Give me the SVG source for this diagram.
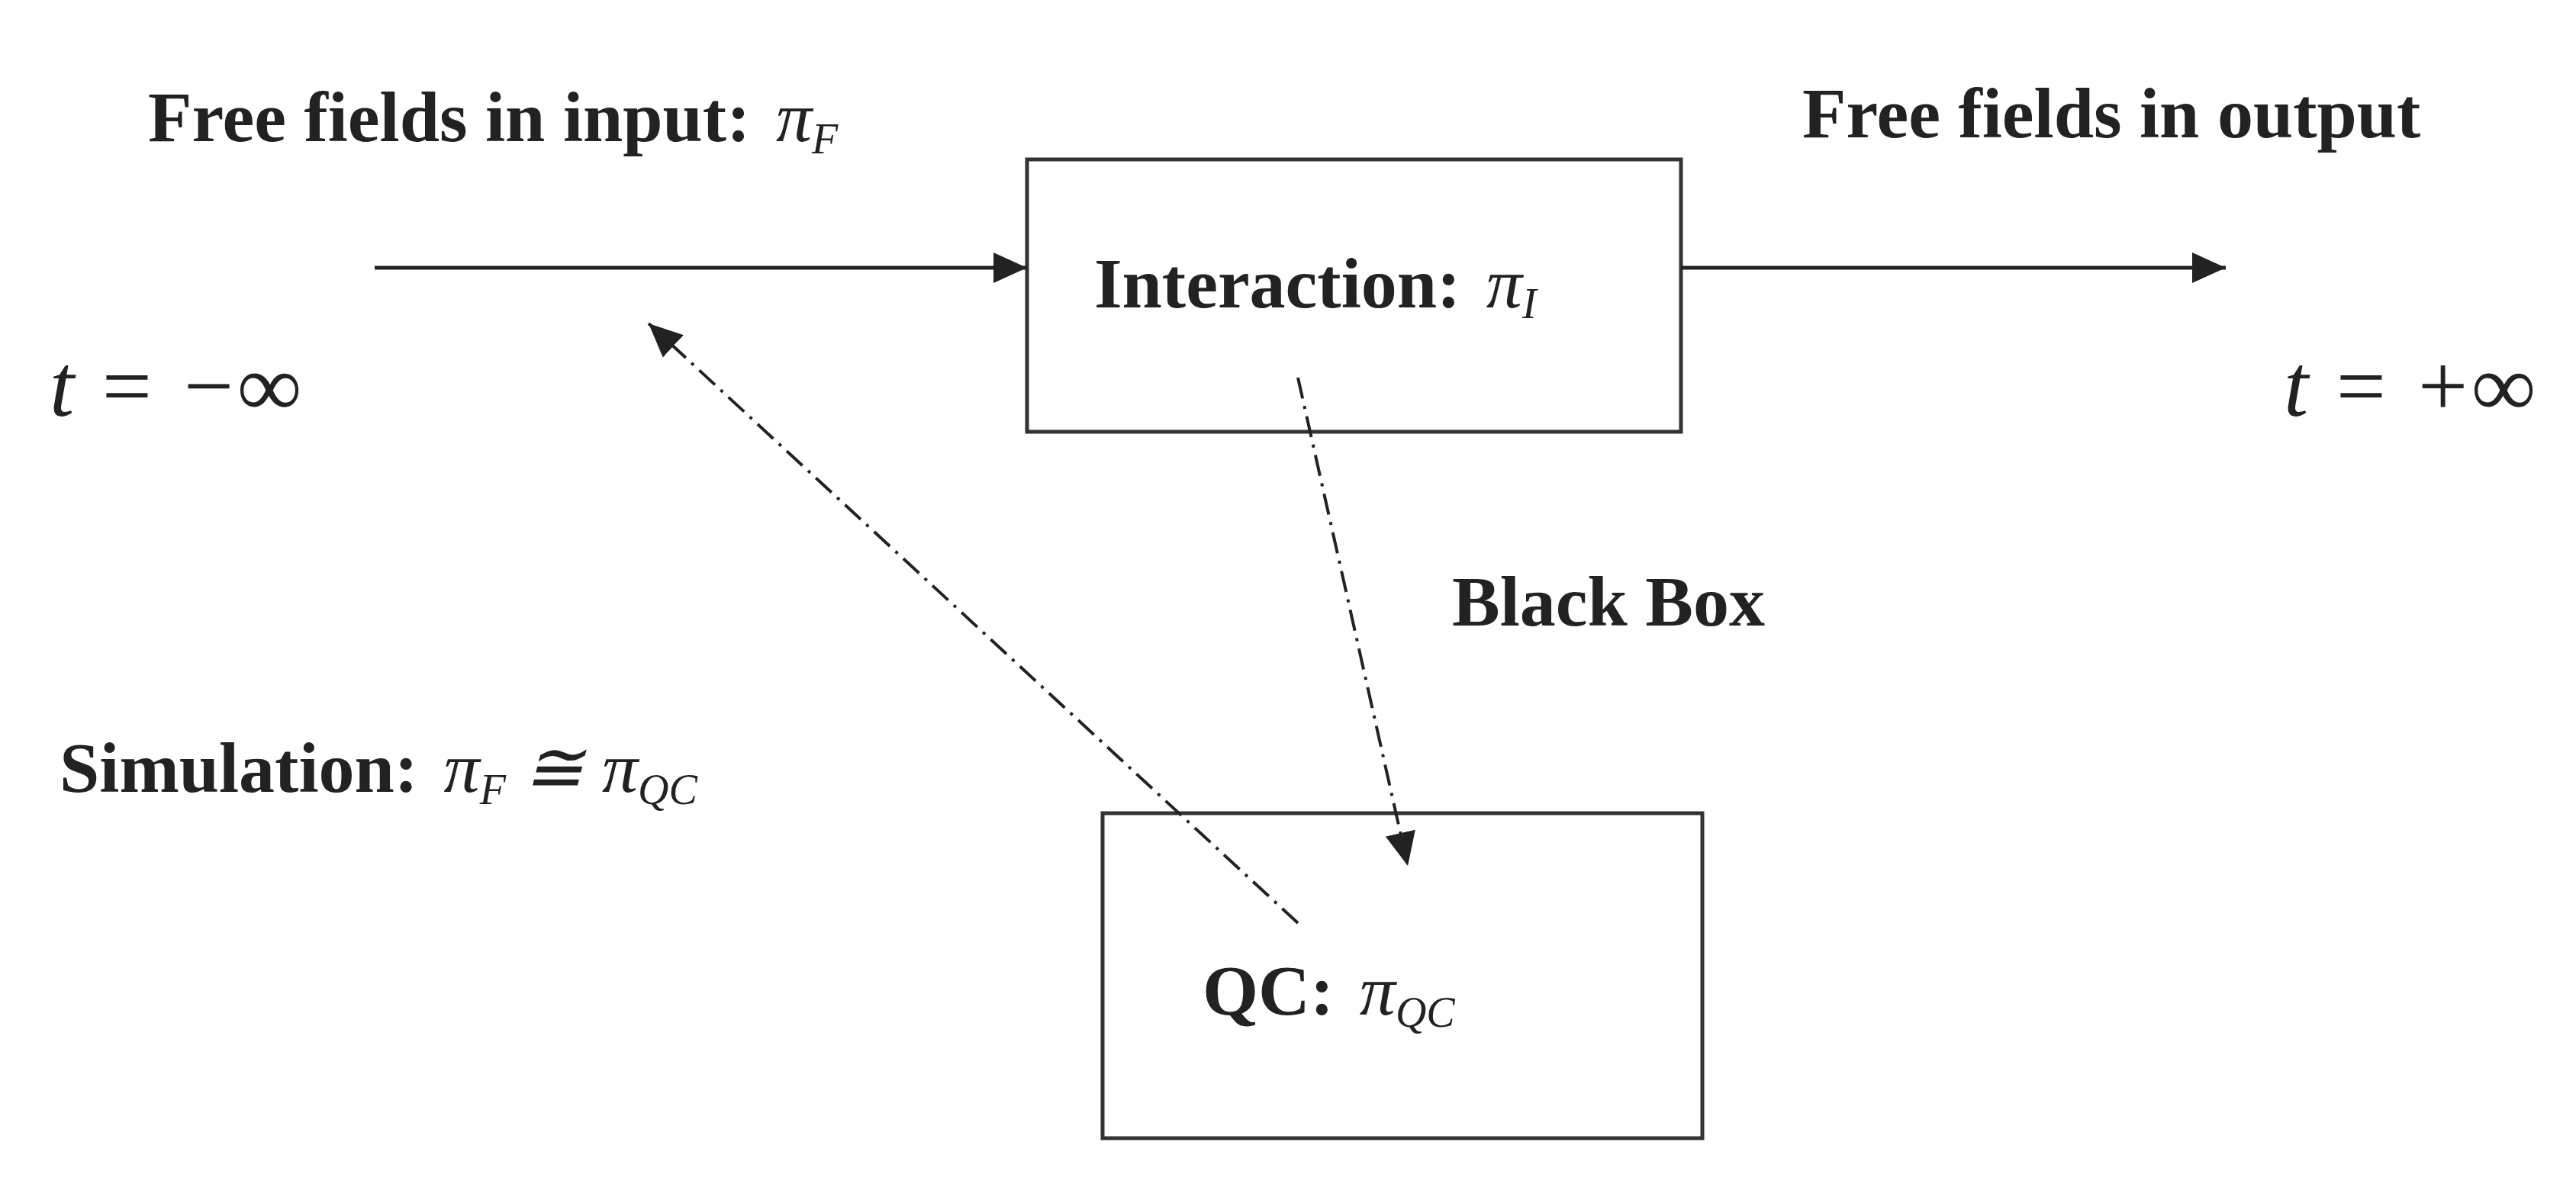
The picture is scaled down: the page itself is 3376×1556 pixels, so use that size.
<svg xmlns="http://www.w3.org/2000/svg" width="3376" height="1556" viewBox="0 0 3376 1556">
<style>
.lb{font-family:"Liberation Serif",serif;font-weight:bold;font-size:94px;fill:#222}
.m{font-family:"Liberation Serif",serif;font-style:italic;font-weight:normal}
.s{font-size:56px}
.t{font-family:"Liberation Serif",serif;font-style:italic;font-size:116px;fill:#222}
.box{fill:none;stroke:#333;stroke-width:5}
.ln{stroke:#222;stroke-width:5;fill:none}
.dd{stroke:#222;stroke-width:4;fill:none;stroke-dasharray:28 10 4 10}
.ah{fill:#222}
</style>
<defs>
<marker id="ah" markerWidth="44" markerHeight="40" refX="44" refY="20" orient="auto" markerUnits="userSpaceOnUse" viewBox="0 0 44 40">
<path class="ah" d="M0,0 L44,20 L0,40 z"/>
</marker>
</defs>
<rect width="3376" height="1556" fill="#fff"/>
<g id="interaction">
<rect class="box" x="1346" y="209" width="857" height="357"/>
<text class="lb" x="1434" y="403">Interaction: <tspan class="m" dx="10">π</tspan><tspan class="m s" dy="14">I</tspan></text>
</g>
<g id="qc">
<rect class="box" x="1445" y="1066" width="786" height="426"/>
<text class="lb" x="1576" y="1330">QC: <tspan class="m" dx="10">π</tspan><tspan class="m s" dy="16">QC</tspan></text>
</g>
<g id="labels">
<text class="lb" x="194" y="185">Free fields in input: <tspan class="m" dx="10">π</tspan><tspan class="m s" dy="16">F</tspan></text>
<text class="lb" x="2362" y="180">Free fields in output</text>
<text class="t" x="65" y="545">t = −∞</text>
<text class="t" x="2993" y="545">t = +∞</text>
<text class="lb" x="1903" y="820">Black Box</text>
<text class="lb" x="78" y="1038">Simulation: <tspan class="m" dx="10">π</tspan><tspan class="m s" dy="16">F</tspan><tspan class="m" dy="-16"> ≅ π</tspan><tspan class="m s" dy="16">QC</tspan></text>
</g>
<g id="connectors">
<line class="ln" x1="491" y1="351" x2="1346" y2="351" marker-end="url(#ah)"/>
<line class="ln" x1="2203" y1="351" x2="2917" y2="351" marker-end="url(#ah)"/>
<line class="dd" x1="1701" y1="495" x2="1845" y2="1135" marker-end="url(#ah)"/>
<line class="dd" x1="1701" y1="1210" x2="850" y2="424" marker-end="url(#ah)"/>
</g>
</svg>
